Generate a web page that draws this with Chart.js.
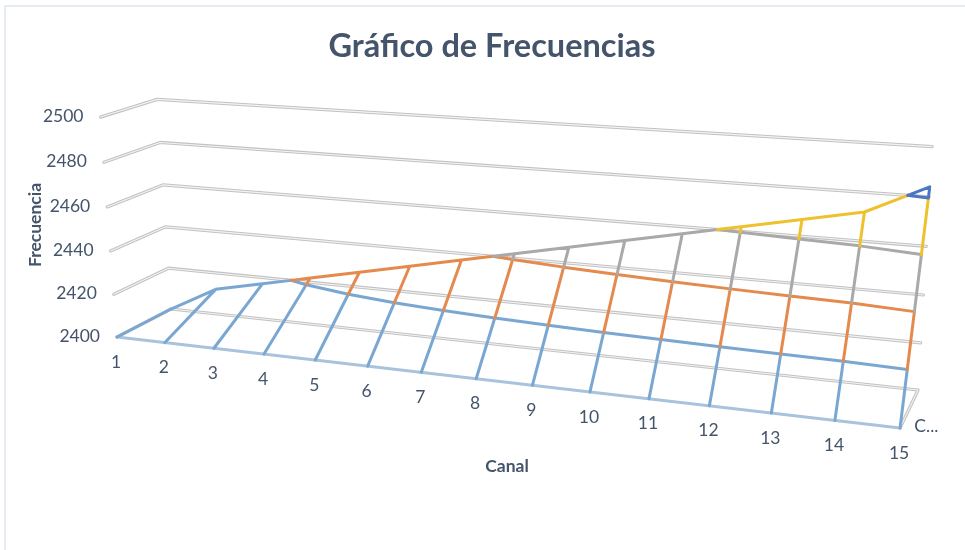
<!DOCTYPE html>
<html>
<head>
<meta charset="utf-8">
<title>Gráfico de Frecuencias</title>
<script src="https://cdnjs.cloudflare.com/ajax/libs/Chart.js/4.4.1/chart.umd.js"></script>
<style>
  html, body { margin: 0; padding: 0; background: #fff; }
  #frame { position: absolute; left: 4px; top: 5px; right: 0; bottom: 0; border-left: 2px solid #e7ecf2; border-top: 2px solid #e7ecf2; }
  #chart { position: absolute; left: 0; top: 0; }
</style>
</head>
<body>
<div id="frame"></div>
<canvas id="chart" width="965" height="550"></canvas>
<script>
// Data. Front row of the surface is the "Canal" column
// (values 1..15, all under the axis minimum), back row is the frequency column.
const channels = [1, 2, 3, 4, 5, 6, 7, 8, 9, 10, 11, 12, 13, 14, 15];
const frequencies = [2400, 2412, 2417, 2422, 2427, 2432, 2437, 2442, 2447, 2452, 2457, 2462, 2467, 2472, 2484];
const valueTicks = [2400, 2420, 2440, 2460, 2480, 2500];
const seriesLabel = 'C...';
const bandColors = ['#7aa7d2', '#e58a4e', '#a9a9a9', '#eec12f', '#4a76c2'];

const TEXT = '#44546a';
const FONT = 'Lato, Carlito, sans-serif';
const LEFT_PAD = 19;
const TITLE_BOX = 70;

// perspective camera of the 3D box, x = channel, y = depth, z = value (each 0..1)
const camX = [117, 645.7, 62.87, -20];
const camY = [337, 25.7, -11.97, -224];
const camW = [1, -0.1526, 0.05187, -0.035];

const project = (x, y, z) => {
  const w = camW[0] + camW[1] * x + camW[2] * y + camW[3] * z;
  return {
    x: (camX[0] + camX[1] * x + camX[2] * y + camX[3] * z) / w,
    y: (camY[0] + camY[1] * x + camY[2] * y + camY[3] * z) / w,
  };
};

const minV = valueTicks[0];
const maxV = valueTicks[valueTicks.length - 1];
const zOf = (v) => (v - minV) / (maxV - minV);
const xOf = (i) => i / (channels.length - 1);
const gap = { x: NaN, y: NaN };

// back and left walls plus the floor edges
const gridPoints = [];
valueTicks.forEach((v) => {
  const z = zOf(v);
  gridPoints.push(project(0, 0, z), project(0, 1, z), project(1, 1, z), gap);
});
gridPoints.push(project(1, 0, 0), project(1, 1, 0), gap);

// the floor front edge is drawn apart, it is paler in the reference
const floorEdge = [project(0, 0, 0), project(1, 0, 0)];

// wireframe, one list per colour band
const bands = bandColors.map(() => []);
const bandOf = (v) => Math.min(Math.floor((v - minV) / 20), bandColors.length - 1);

const addSegment = (band, a, b) => {
  bands[band].push(project(a[0], a[1], a[2]), project(b[0], b[1], b[2]), gap);
};

// a point of the line going from the front row to the back row of channel i, at value v
const onChannel = (i, v) => [xOf(i), (v - minV) / (frequencies[i] - minV), zOf(v)];

channels.forEach((c, i) => {
  const top = frequencies[i];
  const stops = [minV];
  valueTicks.forEach((v) => { if (v > minV && v < top) stops.push(v); });
  stops.push(top);
  if (top === minV) {
    addSegment(0, [xOf(i), 0, 0], [xOf(i), 1, 0]);
    return;
  }
  for (let s = 0; s < stops.length - 1; s += 1) {
    addSegment(bandOf(stops[s]), onChannel(i, stops[s]), onChannel(i, stops[s + 1]));
  }
});

// back row, split where it crosses a tick value
for (let i = 0; i < channels.length - 1; i += 1) {
  const a = frequencies[i];
  const b = frequencies[i + 1];
  const stops = [a];
  valueTicks.forEach((v) => { if (v > a && v < b) stops.push(v); });
  stops.push(b);
  for (let s = 0; s < stops.length - 1; s += 1) {
    const t0 = (stops[s] - a) / (b - a);
    const t1 = (stops[s + 1] - a) / (b - a);
    addSegment(bandOf(stops[s]), [xOf(i + t0), 1, zOf(stops[s])], [xOf(i + t1), 1, zOf(stops[s + 1])]);
  }
}

// contour lines on the surface at each tick value
valueTicks.slice(1, -1).forEach((v, k) => {
  const band = k + 1 === bandColors.length - 1 ? k + 1 : k;
  for (let i = 0; i < channels.length - 1; i += 1) {
    const a = frequencies[i];
    const b = frequencies[i + 1];
    if (a >= v && b >= v) {
      addSegment(band, onChannel(i, v), onChannel(i + 1, v));
    } else if (a < v && b >= v) {
      addSegment(band, [xOf(i + (v - a) / (b - a)), 1, zOf(v)], onChannel(i + 1, v));
    }
  }
});

const lineSet = (data, color, width) => ({
  data,
  showLine: true,
  borderColor: color,
  borderWidth: width,
  pointRadius: 0,
  borderJoinStyle: 'round',
  borderCapStyle: 'round',
  spanGaps: false,
  tension: 0,
});

// first in the list is drawn on top in Chart.js, so build back to front and reverse
const datasets = [
  lineSet(gridPoints, '#c2c2c2', 3.2),
  lineSet(gridPoints, '#f3f3f3', 1.1),
  lineSet(floorEdge, '#a9c3dc', 3),
];
bands.forEach((pts, i) => datasets.push(lineSet(pts, bandColors[i], 3)));
datasets.reverse();

const axisText = {
  id: 'axisText',
  afterDatasetsDraw(chart) {
    const { ctx, scales } = chart;
    const put = (text, px, py, align, font) => {
      ctx.font = font;
      ctx.textAlign = align;
      ctx.textBaseline = 'middle';
      ctx.fillStyle = TEXT;
      ctx.fillText(text, scales.x.getPixelForValue(px), scales.y.getPixelForValue(py));
    };
    ctx.save();
    const tickFont = `17.5px ${FONT}`;
    valueTicks.forEach((v) => {
      const p = project(0, 0, zOf(v));
      put(String(v), p.x - 17, p.y - 1, 'right', tickFont);
    });
    channels.forEach((c, i) => {
      const p = project(xOf(i), 0, 0);
      put(String(c), p.x - 1, p.y + 25, 'center', tickFont);
    });
    const s = project(1, 0.5, 0);
    put(seriesLabel, s.x + 5, s.y + 18, 'left', tickFont);
    put('Canal', 507, 466, 'center', `bold 17.5px ${FONT}`);
    ctx.translate(scales.x.getPixelForValue(35), scales.y.getPixelForValue(225));
    ctx.rotate(-Math.PI / 2);
    ctx.font = `bold 17.5px ${FONT}`;
    ctx.textAlign = 'center';
    ctx.textBaseline = 'middle';
    ctx.fillStyle = TEXT;
    ctx.fillText('Frecuencia', 0, 0);
    ctx.restore();
  },
};

const initApp = () => {
  const ctx = document.getElementById('chart').getContext('2d');
  new Chart(ctx, {
    type: 'scatter',
    data: { datasets },
    plugins: [axisText],
    options: {
      responsive: false,
      animation: false,
      layout: { padding: { left: LEFT_PAD, top: 0, right: 0, bottom: 0 } },
      plugins: {
        legend: { display: false },
        tooltip: { enabled: false },
        title: {
          display: true,
          text: 'Gráfico de Frecuencias',
          color: TEXT,
          font: { family: FONT, size: 32.5, weight: 'bold' },
          padding: { top: 27, bottom: 4 },
        },
      },
      scales: {
        x: { type: 'linear', display: false, min: LEFT_PAD, max: 965 },
        y: { type: 'linear', display: false, reverse: true, min: TITLE_BOX, max: 550 },
      },
    },
  });
};

window.addEventListener('load', () => {
  initApp();
});
</script>
</body>
</html>
